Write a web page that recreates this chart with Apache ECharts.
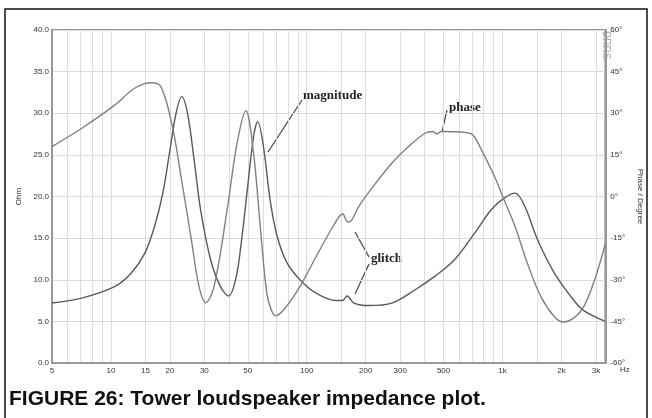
<!DOCTYPE html>
<html>
<head>
<meta charset="utf-8">
<style>
  html, body { margin: 0; padding: 0; background: #fff; }
  #chart { width: 652px; height: 418px; }
</style>
<script src="https://cdn.jsdelivr.net/npm/echarts@6/dist/echarts.min.js"></script>
</head>
<body>
<div id="chart"></div>
<script>
// impedance magnitude (Ohm) vs frequency (Hz)
var magFreq = [5, 7.1, 10.5, 12.7, 14.9, 16.7, 18.4, 19.9, 21.5, 23.0, 24.6, 26.6, 28.7, 32.3, 36.2, 39.9,
  43.5, 46.5, 49.5, 53.5, 56.2, 60.1, 65, 70.3, 78.6, 92.2, 111.6, 141, 152, 161, 174, 208, 272, 358, 450,
  568, 720, 875, 1018, 1160, 1300, 1510, 1840, 2300, 2600, 3350]
var magOhm = [7.2, 7.8, 9.2, 10.8, 13.2, 16.4, 20.4, 25.2, 30.0, 32.0, 30.0, 24.4, 18.4, 12.4, 9.2, 8.05,
  10.2, 14.8, 20.4, 27.2, 29.0, 26.0, 19.6, 15.4, 12.2, 10.0, 8.4, 7.5, 7.5, 8.05, 7.2, 6.9, 7.2, 8.8, 10.4,
  12.4, 15.6, 18.4, 19.8, 20.4, 18.8, 14.8, 10.8, 7.6, 6.3, 5.0]

// impedance phase (degrees) vs frequency (Hz)
var phaseFreq = [5, 7.1, 10.5, 13.2, 16.0, 18.0, 20.6, 22.8, 25.6, 28.2, 30.5, 33.6, 39.2, 44.1, 48.9,
  53.5, 57.9, 62.5, 66, 69.5, 78.6, 92.2, 111.6, 136, 152.5, 162, 170, 184, 225, 272, 331, 402, 440, 460,
  490, 640, 706, 780, 910, 1018, 1160, 1340, 1570, 1840, 2050, 2600, 3350]
var phaseDeg = [18, 24.6, 33, 39, 41, 39.6, 25.2, 7.2, -14.5, -32.5, -38.3, -32.5, -4.9, 19.3, 30.9,
  15.6, -10.9, -34.8, -41, -43, -39.7, -32.5, -21.7, -10.9, -6.3, -9.2, -8.4, -3.7, 4.8, 12, 18, 22.8, 23.4, 22.6,
  23.4, 23.1, 22.2, 16.8, 7.2, -1.2, -10.9, -24.1, -36.1, -43.3, -45.2, -39.7, -17]

var gridFreqs = [6, 7, 8, 9, 10, 15, 20, 30, 40, 50, 60, 70, 80, 90, 100, 150, 200, 300, 400, 500,
  600, 700, 800, 900, 1000, 1500, 2000, 3000]
var labelFreqs = [5, 10, 15, 20, 30, 50, 100, 200, 300, 500, 1000, 2000, 3000]

var magData = magFreq.map(function (f, i) { return [f, magOhm[i]] })
var phaseData = phaseFreq.map(function (f, i) { return [f, phaseDeg[i]] })

var chart = echarts.init(document.getElementById('chart'))
var tickFont = { fontSize: 8, color: '#333', fontFamily: 'Liberation Sans' }

chart.setOption({
  backgroundColor: '#fff',
  animation: false,
  grid: { left: 52, right: 40, top: 30, bottom: 55, show: true, borderColor: '#999', borderWidth: 2 },
  xAxis: {
    type: 'log', logBase: 10, min: 5, max: 3350,
    axisLine: { show: true, lineStyle: { color: '#999', width: 2 } },
    axisTick: { show: false, customValues: gridFreqs },
    axisLabel: Object.assign({
      customValues: labelFreqs, margin: 4,
      formatter: function (v) { return v >= 1000 ? (v / 1000) + 'k' : String(v) }
    }, tickFont),
    splitLine: { show: true, lineStyle: { color: '#dcdcdc', width: 1 } },
    minorSplitLine: { show: false }
  },
  yAxis: [{
    type: 'value', min: 0, max: 40, interval: 5, position: 'left',
    name: 'Ohm', nameLocation: 'middle', nameGap: 20, nameRotate: 90,
    nameTextStyle: { fontSize: 8, color: '#333', fontFamily: 'Liberation Sans' },
    axisLine: { show: true, lineStyle: { color: '#999', width: 2 } },
    axisTick: { show: false },
    axisLabel: Object.assign({ margin: 3, formatter: function (v) { return v.toFixed(1) } }, tickFont),
    splitLine: { show: true, lineStyle: { color: '#dcdcdc', width: 1 } }
  }, {
    type: 'value', min: -60, max: 60, interval: 15, position: 'right',
    name: 'Phase / Degree', nameLocation: 'middle', nameGap: 24, nameRotate: -90,
    nameTextStyle: { fontSize: 8, color: '#333', fontFamily: 'Liberation Sans' },
    axisLine: { show: true, lineStyle: { color: '#999', width: 2 } },
    axisTick: { show: false },
    axisLabel: Object.assign({ margin: 5, formatter: function (v) { return v + '°' } }, tickFont),
    splitLine: { show: false }
  }],
  series: [{
    name: 'magnitude', type: 'line', yAxisIndex: 0, data: magData,
    smooth: 0.35, showSymbol: false, lineStyle: { color: '#5a5a5a', width: 1.4 }
  }, {
    name: 'phase', type: 'line', yAxisIndex: 1, data: phaseData,
    smooth: 0.35, showSymbol: false, lineStyle: { color: '#808080', width: 1.4 }
  }],
  graphic: [
    { type: 'rect', shape: { x: 5, y: 9, width: 642, height: 430 }, style: { fill: 'none', stroke: '#111', lineWidth: 1.5 }, silent: true },
    { type: 'text', x: 620, y: 366, style: { text: 'Hz', fontSize: 8, fill: '#333', fontFamily: 'Liberation Sans' } },
    { type: 'text', x: 611, y: 31, rotation: -Math.PI / 2, style: { text: 'DRRS', fontSize: 10, fill: '#aaa', fontFamily: 'Liberation Sans' } },
    { type: 'text', x: 303, y: 89, style: { text: 'magnitude', fontSize: 13, fontWeight: 'bold', fill: '#222', fontFamily: 'Liberation Serif' } },
    { type: 'line', shape: { x1: 302, y1: 100, x2: 268, y2: 152 }, style: { stroke: '#444', lineWidth: 1.2 } },
    { type: 'text', x: 449, y: 101, style: { text: 'phase', fontSize: 13, fontWeight: 'bold', fill: '#222', fontFamily: 'Liberation Serif' } },
    { type: 'line', shape: { x1: 447, y1: 110, x2: 442, y2: 132 }, style: { stroke: '#444', lineWidth: 1.2 } },
    { type: 'text', x: 371, y: 252, style: { text: 'glitch', fontSize: 13, fontWeight: 'bold', fill: '#222', fontFamily: 'Liberation Serif' } },
    { type: 'line', shape: { x1: 369, y1: 257, x2: 355, y2: 232 }, style: { stroke: '#444', lineWidth: 1.2 } },
    { type: 'line', shape: { x1: 369, y1: 264, x2: 355, y2: 294 }, style: { stroke: '#444', lineWidth: 1.2 } },
    { type: 'text', x: 9, y: 389, style: { text: 'FIGURE 26: Tower loudspeaker impedance plot.', fontSize: 21, fontWeight: 'bold', fill: '#111', fontFamily: 'Liberation Sans' } }
  ]
})
</script>
</body>
</html>
